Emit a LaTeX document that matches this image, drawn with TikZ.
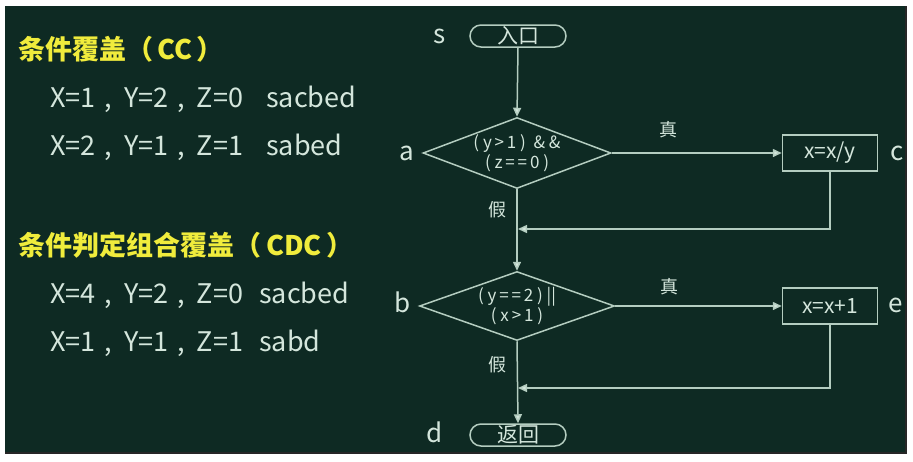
\documentclass[tikz,border=0pt]{standalone}
\usepackage{fontspec}
\setmainfont{Noto Sans CJK SC}
\usetikzlibrary{arrows.meta,shapes.geometric}
\definecolor{bg}{RGB}{14,42,35}
\definecolor{fg}{RGB}{212,230,220}
\definecolor{ln}{RGB}{180,205,192}
\definecolor{ttl}{RGB}{240,236,60}
\newcommand{\cm}{\hspace{9pt},\hspace{12pt}}
\begin{document}
\begin{tikzpicture}[x=1pt,y=-1pt,
  title/.style={text=ttl,inner sep=0,anchor=west,font=\fontsize{27}{30}\selectfont\bfseries},
  body/.style={text=fg,inner sep=0,anchor=base west,font=\fontsize{27}{30}\selectfont},
  lbl/.style={text=fg,inner sep=0,anchor=base,font=\fontsize{26}{30}\selectfont},
  tf/.style={text=fg,inner sep=0,font=\fontsize{18}{20}\selectfont},
  dtext/.style={text=fg,inner sep=0,align=center,font=\fontsize{17}{20}\selectfont},
  stadium/.style={draw=ln,line width=1.5pt,rectangle,rounded corners=11pt,minimum width=96pt,minimum height=22pt,inner sep=0,text=fg,font=\fontsize{21}{22}\selectfont},
  dia/.style={draw=ln,line width=1.5pt,diamond,inner sep=0},
  procbox/.style={draw=ln,line width=1.5pt,rectangle,minimum width=95pt,minimum height=36pt,inner sep=0,text=fg,font=\fontsize{21}{22}\selectfont},
  conn/.style={draw=ln,line width=1.5pt},
  arr/.style={conn,-{Triangle[length=9pt,width=8pt,fill=fg]}}]
\fill[white] (0,0) rectangle (913,461);
\useasboundingbox (0,0) rectangle (913,461);
\fill[bg] (5,6) rectangle (906,453);
\draw[black!85,line width=1.5pt] (906,6) -- (906,453) -- (5,453);

% left text
\node[title] (t1) at (18,49) {条件覆盖（\hspace{4pt}CC\hspace{4pt}）};
\node[body] (l1) at (50,107) {X=1\cm Y=2\cm Z=0\hspace{23pt}sacbed};
\node[body] (l2) at (50,155) {X=2\cm Y=1\cm Z=1\hspace{23pt}sabed};
\node[title] (t2) at (18,245) {条件判定组合覆盖（\hspace{5pt}CDC\hspace{5pt}）};
\node[body] (l3) at (50,303) {X=4\cm Y=2\cm Z=0\hspace{16pt}sacbed};
\node[body] (l4) at (50,351) {X=1\cm Y=1\cm Z=1\hspace{16pt}sabd};

% flowchart
\node[stadium] (s) at (518,36) {入口};
\node[dia,minimum width=188pt,minimum height=71pt,label={[dtext]center:{(\ y\,>\,1\ )\ \ \&\ \&\\(\ z\,=\,=\,0\ )}}] (a) at (517,153) {};
\node[procbox] (c) at (830,153) {x=x/y};
\node[dia,minimum width=195pt,minimum height=69pt,label={[dtext]center:{(\ y\,=\,=\,2\ )\ ||\\(\ x\,>\,1\ )}}] (b) at (517,306) {};
\node[procbox] (e) at (830,306) {x=x+1};
\node[stadium] (d) at (518,435) {返回};

\coordinate (m1) at (518,229);
\coordinate (m2) at (518,388);

\draw[arr] (s.south) -- (a.north);
\draw[arr] (a.east) -- (c.west);
\draw[arr] (a.south) -- (b.north);
\draw[arr] (c.south) |- (m1);
\draw[arr] (b.east) -- (e.west);
\draw[arr] (b.south) -- (d.north);
\draw[arr] (e.south) |- (m2);

\node[tf] (z1) at (668,130) {真};
\node[tf] (j1) at (497,210) {假};
\node[tf] (z2) at (669,287) {真};
\node[tf] (j2) at (497,365) {假};

\node[lbl] (ls) at (440,43) {s};
\node[lbl] (la) at (407,160) {a};
\node[lbl] (lc) at (897,160) {c};
\node[lbl] (lb) at (403,312) {b};
\node[lbl] (le) at (896,312) {e};
\node[lbl] (ld) at (435,442) {d};
\end{tikzpicture}
\end{document}
